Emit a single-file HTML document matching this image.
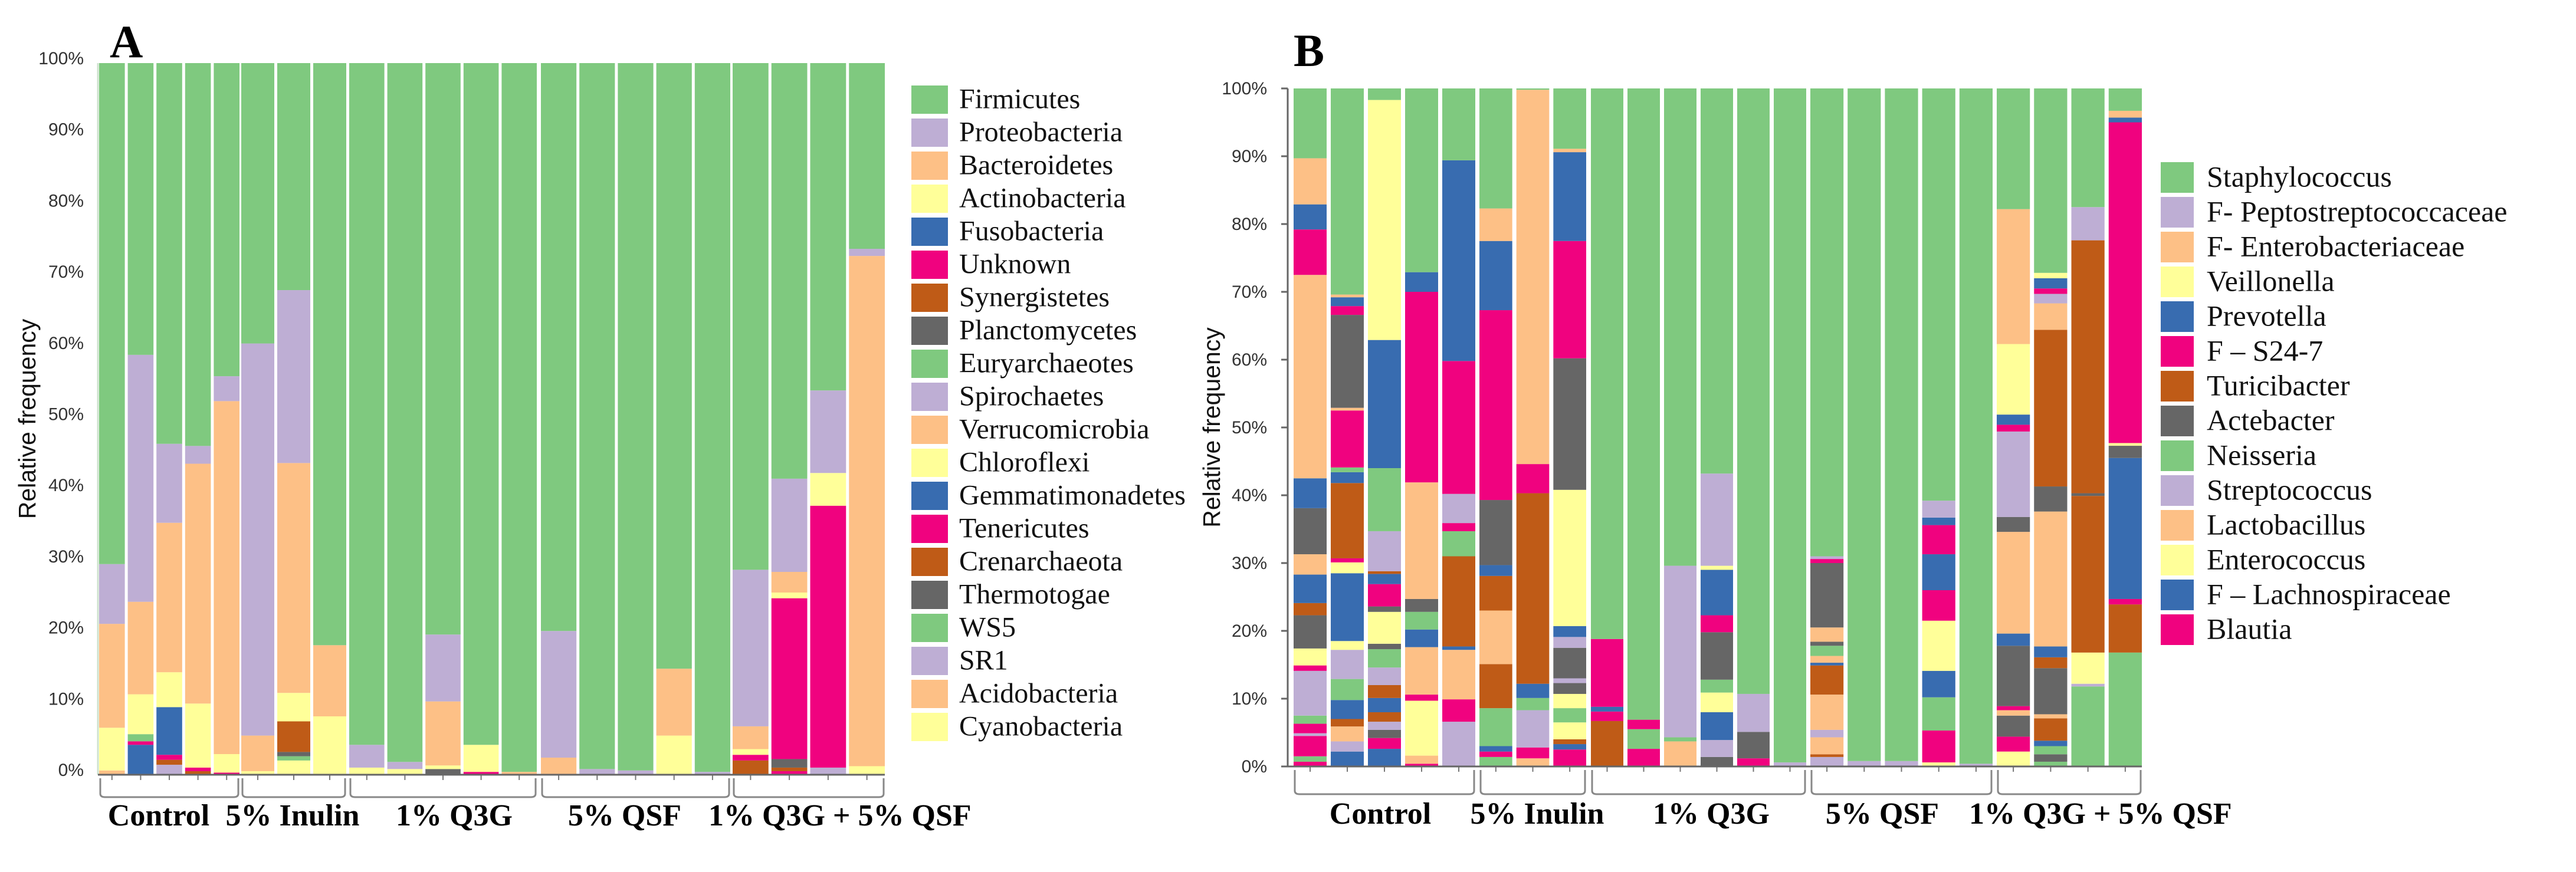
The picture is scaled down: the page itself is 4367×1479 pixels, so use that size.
<!DOCTYPE html>
<html><head><meta charset="utf-8"><title>Relative frequency</title>
<style>html,body{margin:0;padding:0;background:#fff;}svg{display:block;}</style></head>
<body>
<svg id="chart" xmlns="http://www.w3.org/2000/svg" width="4367" height="1479" viewBox="0 0 4367 1479"></svg>
<script>
// ---------- Panel A data (bottom-up segments per sample) ----------
const phylaA = ["Firmicutes","Proteobacteria","Bacteroidetes","Actinobacteria","Fusobacteria","Unknown","Synergistetes","Planctomycetes","Euryarchaeotes","Spirochaetes","Verrucomicrobia","Chloroflexi","Gemmatimonadetes","Tenericutes","Crenarchaeota","Thermotogae","WS5","SR1","Acidobacteria","Cyanobacteria"];
const groupsA = ["Control","5% Inulin","1% Q3G","5% QSF","1% Q3G + 5% QSF"];
const groupSizesA = [5,3,5,5,4];
const segColorsA = [
 ["O","Y","O","P","G"],["B","M","G","Y","O","P","G"],["P","R","M","B","Y","O","P","G"],["R","M","Y","O","P","G"],["M","Y","O","P","G"],
 ["Y","O","P","G"],["Y","G","K","R","Y","O","P","G"],["Y","O","G"],
 ["Y","P","G"],["Y","P","G"],["K","Y","O","P","G"],["M","Y","G"],["O","G"],
 ["O","P","G"],["P","G"],["P","G"],["Y","O","G"],["P","G"],
 ["R","M","Y","O","P","G"],["M","R","K","M","Y","O","P","G"],["P","M","Y","P","G"],["Y","O","P","G"]
];
const segValuesA = [
 [0.6,6.0,14.6,8.4,70.4],[4.2,0.5,1.0,5.6,13.0,34.7,41.0],[1.4,0.7,0.7,6.7,4.9,21.0,11.1,53.5],[0.5,0.5,9.0,33.7,2.5,53.8],[0.3,2.6,49.6,3.5,44.0],
 [0.5,5.0,55.1,39.4],[2.0,0.6,0.6,4.3,4.0,32.3,24.3,31.9],[8.2,10.0,81.8],
 [1.0,3.2,95.8],[0.8,1.0,98.2],[0.8,0.5,9.0,9.4,80.3],[0.4,3.8,95.8],[0.4,99.6],
 [2.4,17.8,79.8],[0.8,99.2],[0.6,99.4],[5.5,9.4,85.1],[0.4,99.6],
 [2.0,0.8,0.8,3.2,22.0,71.2],[0.5,0.5,1.2,22.6,0.8,2.9,13.1,58.4],[1.0,36.8,4.6,11.6,46.0],[1.2,71.7,1.0,26.1]
];
// ---------- Panel B data ----------
const generaB = ["Staphylococcus","F- Peptostreptococcaceae","F- Enterobacteriaceae","Veillonella","Prevotella","F \u2013 S24-7","Turicibacter","Actebacter","Neisseria","Streptococcus","Lactobacillus","Enterococcus","F \u2013 Lachnospiraceae","Blautia"];
const groupsB = ["Control","5% Inulin","1% Q3G","5% QSF","1% Q3G + 5% QSF"];
const groupSizesB = [5,3,6,5,4];
const segColorsB = [
 ["M","G","M","P","M","G","P","M","Y","K","R","B","O","K","B","O","M","B","O","G"],
 ["B","P","O","R","B","G","P","Y","B","Y","M","R","B","G","M","O","K","M","B","O","G"],
 ["B","M","K","P","R","B","R","P","G","K","Y","K","M","B","R","P","G","B","Y","G"],
 ["M","O","Y","M","O","B","G","K","O","M","B","G"],
 ["P","M","O","B","R","G","M","P","M","B","G"],
 ["G","M","B","G","R","O","R","B","K","M","B","O","G"],
 ["O","M","P","G","B","R","M","O","G"],
 ["M","B","R","Y","G","Y","K","P","K","P","B","Y","K","M","B","O","G"],
 ["R","M","B","M","G"],
 ["M","G","M","G"],
 ["O","G","P","G"],
 ["K","P","B","Y","G","K","M","B","Y","P","G"],
 ["M","K","P","G"],
 ["P","G"],
 ["P","R","O","P","O","R","B","O","G","K","O","K","M","P","G"],
 ["P","G"],
 ["P","G"],
 ["Y","M","G","B","Y","M","B","M","B","P","G"],
 ["P","G"],
 ["Y","M","K","O","M","K","B","O","K","P","M","B","Y","O","G"],
 ["G","K","G","B","R","O","K","R","B","O","K","R","O","P","M","B","Y","G"],
 ["G","P","Y","R","K","R","P","G"],
 ["G","R","M","B","K","Y","M","B","O","G"]
];
const segValuesB = [
 [0.7,0.8,3.0,0.4,1.4,1.2,6.6,0.8,2.5,4.9,1.8,4.2,3.0,6.8,4.4,30.0,6.7,3.7,6.8,10.3],
 [2.2,1.5,2.2,1.1,2.8,3.1,4.3,1.3,10.0,1.6,0.6,11.1,1.6,0.7,8.4,0.4,13.7,1.3,1.3,0.4,30.4],
 [2.6,1.6,1.2,1.2,1.4,2.1,1.9,2.6,2.7,0.8,4.7,0.8,3.3,1.5,0.4,5.9,9.3,18.9,35.4,1.7],
 [0.4,1.2,8.1,0.9,7.0,2.6,2.6,1.9,17.2,28.1,2.9,27.1],
 [6.6,3.3,7.3,0.5,13.3,3.7,1.2,4.3,19.6,29.6,10.6],
 [1.4,0.8,0.8,5.6,6.5,7.9,5.1,1.6,9.6,28.0,10.2,4.8,17.7],
 [1.2,1.6,5.5,1.8,2.1,28.1,4.3,55.2,0.2],
 [2.5,0.8,0.7,2.5,2.1,2.1,1.6,0.7,4.5,1.6,1.6,20.1,19.4,17.3,13.1,0.5,8.9],
 [6.7,1.4,0.7,10.0,81.2],
 [2.6,2.9,1.4,93.1],
 [3.7,0.6,25.3,70.4],
 [1.4,2.5,4.1,2.9,1.9,7.0,2.5,6.7,0.6,13.6,56.8],
 [1.2,3.9,5.6,89.3],
 [0.6,99.4],
 [1.4,0.4,2.5,1.1,5.2,4.3,0.4,1.0,1.5,0.6,2.1,9.5,0.6,0.4,69.0],
 [0.8,99.2],
 [0.8,99.2],
 [0.6,4.7,4.9,3.9,7.4,4.5,5.3,4.3,1.1,2.5,60.8],
 [0.4,99.6],
 [2.2,2.2,3.1,0.8,0.6,8.9,1.8,15.0,2.2,12.6,1.0,1.5,10.4,19.9,17.8],
 [0.7,1.1,1.2,0.8,3.3,0.6,6.8,1.6,1.6,19.9,3.7,23.1,3.9,1.4,0.8,1.5,0.8,27.2],
 [11.8,0.4,4.6,23.1,0.4,37.3,4.9,17.5],
 [16.8,7.1,0.8,20.8,1.8,0.4,47.3,0.7,1.0,3.3]
];
const yTicks = [0,10,20,30,40,50,60,70,80,90,100];

// ---------- styling / layout ----------
const COL = {G:"#7fc97f",P:"#beaed4",O:"#fdc086",Y:"#ffff99",B:"#386cb0",M:"#f0027f",R:"#bf5b17",K:"#666666"};
const LEG = ["G","P","O","Y","B","M","R","K"];
const NS = "http://www.w3.org/2000/svg";
const svg = document.getElementById("chart");
function mk(tag, attrs, parent){const e=document.createElementNS(NS,tag);for(const k in attrs)e.setAttribute(k,attrs[k]);(parent||svg).appendChild(e);return e;}
const SERIF = "'Liberation Serif', serif", SANS = "'Liberation Sans', sans-serif";

function drawPanel(cfg){
  const g = mk("g",{});
  
  
  const yS = v => cfg.y0 - v*(cfg.y0-cfg.y100)/100;
  const L = mk("text",{x:cfg.letterX,y:cfg.letterY,"font-family":SERIF,"font-weight":"bold","font-size":78,fill:"#000"},g);
  L.textContent = cfg.letter;
  
  
  const yt = mk("text",{x:0,y:0,"font-family":SANS,"font-size":41,fill:"#111","text-anchor":"middle",transform:`translate(${cfg.titleX},${(cfg.y0+cfg.y100)/2}) rotate(-90)`},g);
  yt.textContent = "Relative frequency";
  
  
  yTicks.forEach(t=>{
    const y = yS(t);
    const tl = mk("text",{x:cfg.labelX,y:y+10-cfg.labelShift,"font-family":SANS,"font-size":30,fill:"#333","text-anchor":"end"},g);
    tl.textContent = t+"%";
    
    
    if(cfg.axisTicks){
      const tk = mk("line",{x1:cfg.axisX-11,x2:cfg.axisX,y1:y,y2:y,stroke:"#666","stroke-width":3},g);
      
      
    }
  });
  const ax = mk("line",{x1:cfg.axisX,x2:cfg.axisX,y1:cfg.y100,y2:cfg.y0,stroke:cfg.axisColor,"stroke-width":3},g);
  
  
  let idx = 0;
  cfg.groupSizes.forEach((n,gi)=>{
    const [gx0,gx1] = cfg.groupSpans[gi];
    const pitch = (gx1-gx0+cfg.gap)/n, w = pitch-cfg.gap;
    for(let k=0;k<n;k++){
      const bx = gx0+k*pitch;
      const bar = mk("g",{},g);
      
      
      let cum = 0;
      cfg.vals[idx].forEach((v,si)=>{
        const yTop = yS(cum+v), yBot = yS(cum);
        const r = mk("rect",{x:bx,y:yTop,width:w,height:Math.max(0,yBot-yTop),fill:COL[cfg.cols[idx][si]]},bar);
        
        
        cum += v;
      });
      const tk = mk("line",{x1:bx+w/2,x2:bx+w/2,y1:cfg.y0,y2:cfg.y0+9,stroke:"#777","stroke-width":2},g);
      
      
      idx++;
    }
    const bt = cfg.y0+6, bb = cfg.bracketBottom;
    const br = mk("path",{d:`M${gx0+2},${bt} L${gx0+2},${bb-6} Q${gx0+2},${bb} ${gx0+10},${bb} L${gx1-10},${bb} Q${gx1-2},${bb} ${gx1-2},${bb-6} L${gx1-2},${bt}`,fill:"none",stroke:"#888","stroke-width":3},g);
    
    
    const gl = mk("text",{x:cfg.groupLabelX[gi],y:cfg.groupLabelY,"font-family":SERIF,"font-weight":"bold","font-size":52,fill:"#000","text-anchor":gi===4?"start":"middle"},g);
    gl.textContent = cfg.groups[gi];
    
    
  });
  const base = mk("line",{x1:cfg.axisX,x2:cfg.groupSpans[4][1],y1:cfg.y0,y2:cfg.y0,stroke:"#666","stroke-width":3},g);
  
  
  const lg = mk("g",{},g);
  
  
  cfg.legend.forEach((name,i)=>{
    const y = cfg.legTop + i*cfg.legPitch;
    const e = mk("g",{},lg);
    
    
    mk("rect",{x:cfg.legX,y:y,width:cfg.legW,height:cfg.legH,fill:COL[LEG[i%8]]},e);
    const t = mk("text",{x:cfg.legTextX,y:y+cfg.legH*0.8,"font-family":SERIF,"font-size":cfg.legFont,fill:"#111"},e);
    t.textContent = name;
  });
}

drawPanel({name:"panel-a",letter:"A",letterX:186,letterY:97,titleX:60,labelX:142,labelShift:8,axisX:166,axisColor:"#cfe3cf",axisTicks:false,
  y0:1314,y100:107,gap:5,groupSizes:groupSizesA,groupSpans:[[168,406],[409,587],[592,910],[917,1238],[1242,1500]],
  vals:segValuesA,cols:segColorsA,groups:groupsA,groupLabelX:[269,496,770,1059,1201],groupLabelY:1400,bracketBottom:1352,
  legend:phylaA,legTop:145,legPitch:56,legX:1545,legW:62,legH:48,legTextX:1626,legFont:48});
drawPanel({name:"panel-b",letter:"B",letterX:2193,letterY:112,titleX:2068,labelX:2148,labelShift:0,axisX:2183,axisColor:"#666",axisTicks:true,
  y0:1300,y100:150,gap:7,groupSizes:groupSizesB,groupSpans:[[2193,2501],[2508,2689],[2697,3062],[3069,3378],[3385,3631]],
  vals:segValuesB,cols:segColorsB,groups:groupsB,groupLabelX:[2340,2606,2901,3191,3338],groupLabelY:1397,bracketBottom:1347,
  legend:generaB,legTop:275,legPitch:59,legX:3663,legW:56,legH:52,legTextX:3741,legFont:50});
</script>
</body></html>
